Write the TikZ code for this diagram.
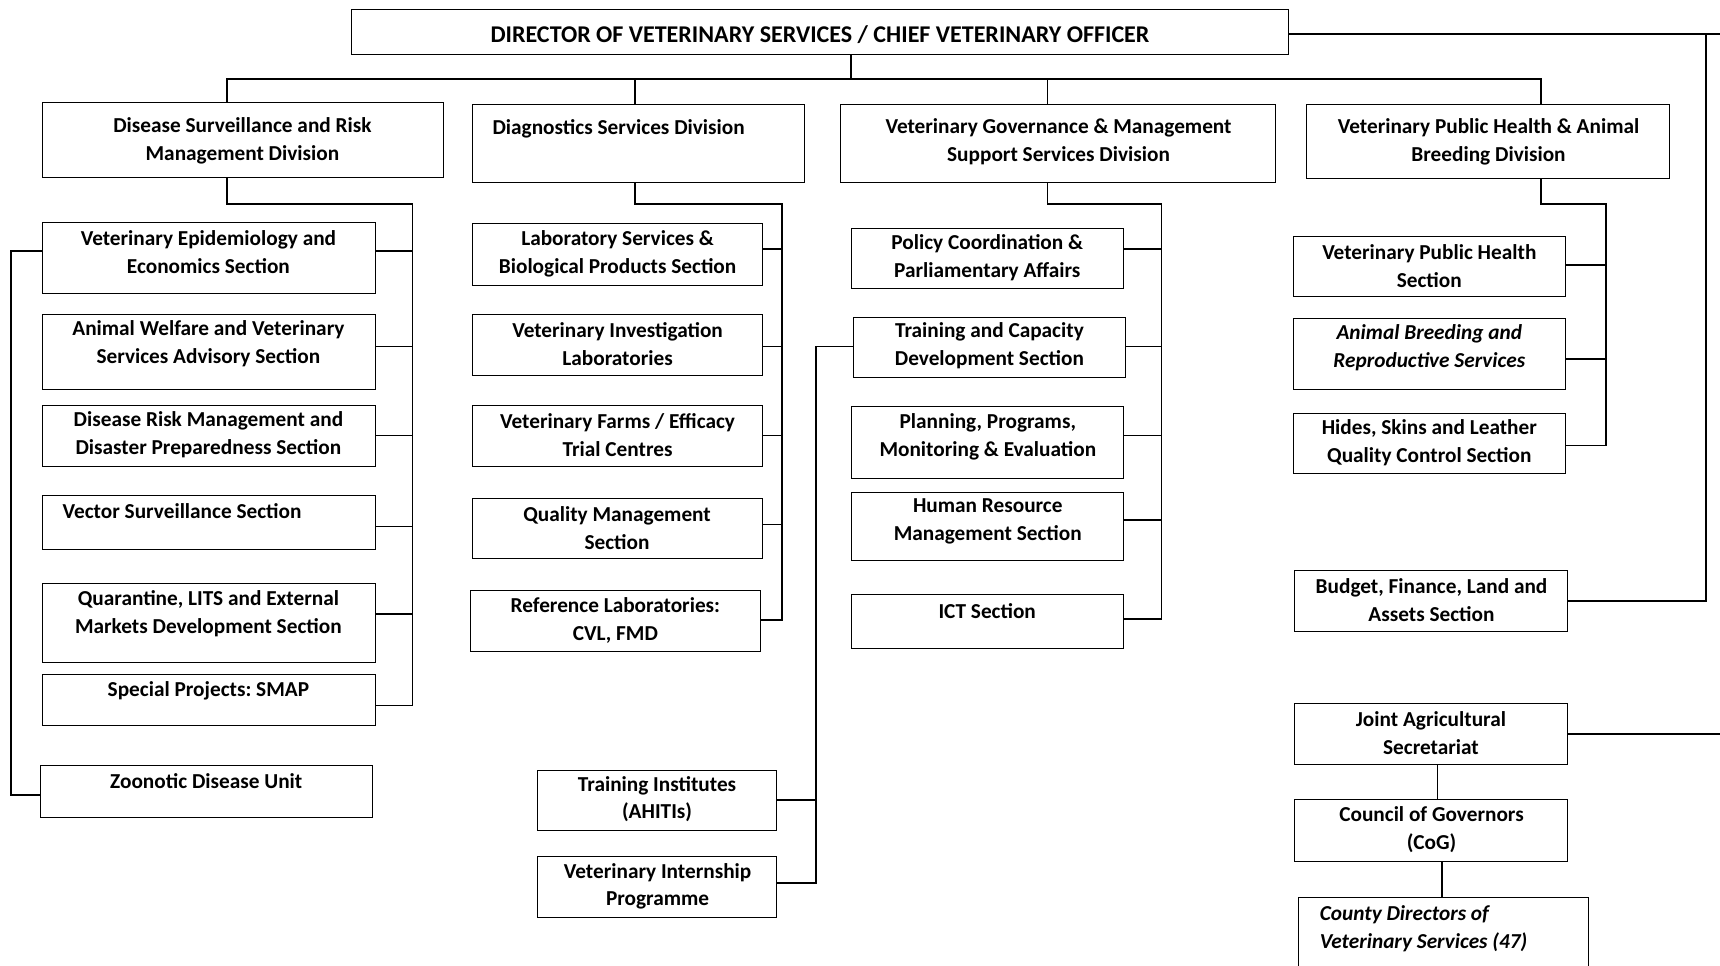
\documentclass[tikz,border=0pt]{standalone}
\usepackage{fontspec}
\setmainfont{Carlito}
\frenchspacing
\newcommand\bx[5]{\node[box, minimum width={#4-#2}, minimum height={#5-#3}] (#1) at ({(#2+#4)/2},{(#3+#5)/2}) {};}
\newcommand\tx[4]{\node[txt] (#1) at (#2,#3) {#4};}
\begin{document}
\begin{tikzpicture}[x=1pt,y=-1pt,
  box/.style={draw, line width=0.9pt, inner sep=0pt, outer sep=0pt},
  txt/.style={align=center, font=\bfseries\fontsize{19.4}{25.5}\selectfont, inner sep=0pt},
  itx/.style={txt, font=\bfseries\itshape\fontsize{19.4}{25.5}\selectfont},
  ttx/.style={txt, font=\bfseries\fontsize{21.9}{26}\selectfont},
  conn/.style={line width=1.5pt}]
\useasboundingbox (0,0) rectangle (1568,880);
\clip (0,0) rectangle (1568,880);
% boxes
\bx{top}{320}{9}{1175}{50}
\bx{d1}{39}{93}{404}{162}
\bx{d2}{431}{95}{733}{166}
\bx{d3}{766}{95}{1163}{166}
\bx{d4}{1191}{95}{1522}{163}
\bx{e1}{39}{203}{342}{268}
\bx{e2}{39}{287}{342}{355}
\bx{e3}{39}{370}{342}{425}
\bx{e4}{39}{452}{342}{501}
\bx{e5}{39}{532}{342}{604}
\bx{e6}{39}{615}{342}{661}
\bx{z}{37}{698}{340}{745}
\bx{g1}{431}{204}{695}{260}
\bx{g2}{431}{287}{695}{342}
\bx{g3}{431}{370}{695}{425}
\bx{g4}{431}{454}{695}{509}
\bx{g5}{429}{538}{693}{594}
\bx{v1}{776}{208}{1024}{263}
\bx{v2}{778}{289}{1026}{344}
\bx{v3}{776}{371}{1024}{436}
\bx{v4}{776}{449}{1024}{511}
\bx{v5}{776}{542}{1024}{591}
\bx{t1}{490}{702}{708}{757}
\bx{t2}{490}{781}{708}{836}
\bx{p1}{1179}{216}{1427}{270}
\bx{p2}{1179}{290}{1427}{355}
\bx{p3}{1179}{377}{1427}{432}
\bx{b}{1180}{520}{1429}{576}
\bx{j}{1180}{641}{1429}{697}
\bx{c}{1180}{729}{1429}{785}
\bx{cd}{1184}{818}{1448}{900}
% texts
\node[ttx] (topt) at (747.5,32) {DIRECTOR OF VETERINARY SERVICES / CHIEF VETERINARY OFFICER};
\tx{d1t}{221}{128}{Disease Surveillance and Risk\\Management Division}
\tx{d2t}{564}{117}{Diagnostics Services Division}
\tx{d3t}{965}{129.5}{Veterinary Governance \& Management\\Support Services Division}
\tx{d4t}{1357}{129.5}{Veterinary Public Health \& Animal\\Breeding Division}
\tx{e1t}{190}{229.5}{Veterinary Epidemiology and\\Economics Section}
\tx{e2t}{190}{313.5}{Animal Welfare and Veterinary\\Services Advisory Section}
\tx{e3t}{190}{396.5}{Disease Risk Management and\\Disaster Preparedness Section}
\tx{e4t}{166}{466}{Vector Surveillance Section}
\tx{e5t}{190}{559.5}{Quarantine, LITS and External\\Markets Development Section}
\tx{e6t}{190}{630}{Special Projects: SMAP}
\tx{zt}{188}{712}{Zoonotic Disease Unit}
\tx{g1t}{563}{231.5}{Laboratory Services \&\\Biological Products Section}
\tx{g2t}{563}{313.5}{Veterinary Investigation\\Laboratories}
\tx{g3t}{563}{396.5}{Veterinary Farms / Efficacy\\Trial Centres}
\tx{g4t}{562.5}{481.5}{Quality Management\\Section}
\tx{g5t}{561}{565.5}{Reference Laboratories:\\CVL, FMD}
\tx{v1t}{900}{235}{Policy Coordination \&\\Parliamentary Affairs}
\tx{v2t}{902}{315.5}{Training and Capacity\\Development Section}
\tx{v3t}{900.5}{398.5}{Planning, Programs,\\Monitoring \& Evaluation}
\tx{v4t}{900.5}{475.5}{Human Resource\\Management Section}
\tx{v5t}{900}{557}{ICT Section}
\tx{t1t}{599}{728.5}{Training Institutes\\(AHITIs)}
\tx{t2t}{599.5}{808}{Veterinary Internship\\Programme}
\tx{p1t}{1303}{242.5}{Veterinary Public Health\\Section}
\node[itx] (p2t) at (1303,317) {Animal Breeding and\\Reproductive Services};
\tx{p3t}{1303}{404}{Hides, Skins and Leather\\Quality Control Section}
\tx{bt}{1305}{547.5}{Budget, Finance, Land and\\Assets Section}
\tx{jt}{1304.5}{668.5}{Joint Agricultural\\Secretariat}
\tx{ct}{1305}{756.5}{Council of Governors\\(CoG)}
\node[itx, align=left, anchor=west] (cdt) at (1203,846.5) {County Directors of\\Veterinary Services (47)};
% bus coordinates
\coordinate (bx) at (776,72);
\coordinate (b1) at (207,72);
\coordinate (b2) at (579,72);
\coordinate (b3) at (955,72);
\coordinate (b4) at (1405,72);
\coordinate (k1) at (207,186); \coordinate (r1) at (376,186);
\coordinate (k2) at (579,186); \coordinate (r2) at (713,186);
\coordinate (k3) at (955,186); \coordinate (r3) at (1059,186);
\coordinate (k4) at (1405,186); \coordinate (r4) at (1464,186);
\coordinate (rr) at (1555,31);
\coordinate (edge1) at (1568,31);
\coordinate (edge2) at (1568,669);
% top connectors
\draw[conn] (top.south -| bx) -- (bx);
\draw[conn] (b1 |- d1.north) -- (b1) -- (b4) -- (b4 |- d4.north);
\draw[conn] (b2) -- (b2 |- d2.north);
\draw[conn] (b3) -- (b3 |- d3.north);
\draw[conn] (top.east |- rr) -- (edge1);
\draw[conn] (rr) |- (b.east);
\draw[conn] (j.east) -- (edge2);
\draw[conn] ([xshift=6]j.south) -- ([xshift=6]c.north);
\draw[conn] ([xshift=-1.5]cd.north |- c.south) -- ([xshift=-1.5]cd.north);
% division 1
\draw[conn] (d1.south -| k1) -- (k1) -- (r1) -- (376,643) -- (e6.east |- 0,643);
\draw[conn] (e1.east |- 0,229) -- (376,229);
\draw[conn] (e2.east |- 0,316) -- (376,316);
\draw[conn] (e3.east |- 0,397) -- (376,397);
\draw[conn] (e4.east |- 0,480) -- (376,480);
\draw[conn] (e5.east |- 0,560) -- (376,560);
\draw[conn] (e1.west |- 0,229) -- (10,229) -- (10,725) -- (z.west |- 0,725);
% division 2
\draw[conn] (d2.south -| k2) -- (k2) -- (r2) -- (713,565) -- (g5.east |- 0,565);
\draw[conn] (g1.east |- 0,227) -- (713,227);
\draw[conn] (g2.east |- 0,316) -- (713,316);
\draw[conn] (g3.east |- 0,397) -- (713,397);
\draw[conn] (g4.east |- 0,478) -- (713,478);
% division 3
\draw[conn] (d3.south -| k3) -- (k3) -- (r3) -- (1059,564) -- (v5.east |- 0,564);
\draw[conn] (v1.east |- 0,227) -- (1059,227);
\draw[conn] (v2.east |- 0,316) -- (1059,316);
\draw[conn] (v3.east |- 0,397) -- (1059,397);
\draw[conn] (v4.east |- 0,474) -- (1059,474);
\draw[conn] (v2.west |- 0,316) -- (744,316) -- (744,805) -- (t2.east |- 0,805);
\draw[conn] (t1.east |- 0,729) -- (744,729);
% division 4
\draw[conn] (d4.south -| k4) -- (k4) -- (r4) -- (1464,406) -- (p3.east |- 0,406);
\draw[conn] (p1.east |- 0,241.5) -- (1464,241.5);
\draw[conn] (p2.east |- 0,327) -- (1464,327);
\end{tikzpicture}
\end{document}
